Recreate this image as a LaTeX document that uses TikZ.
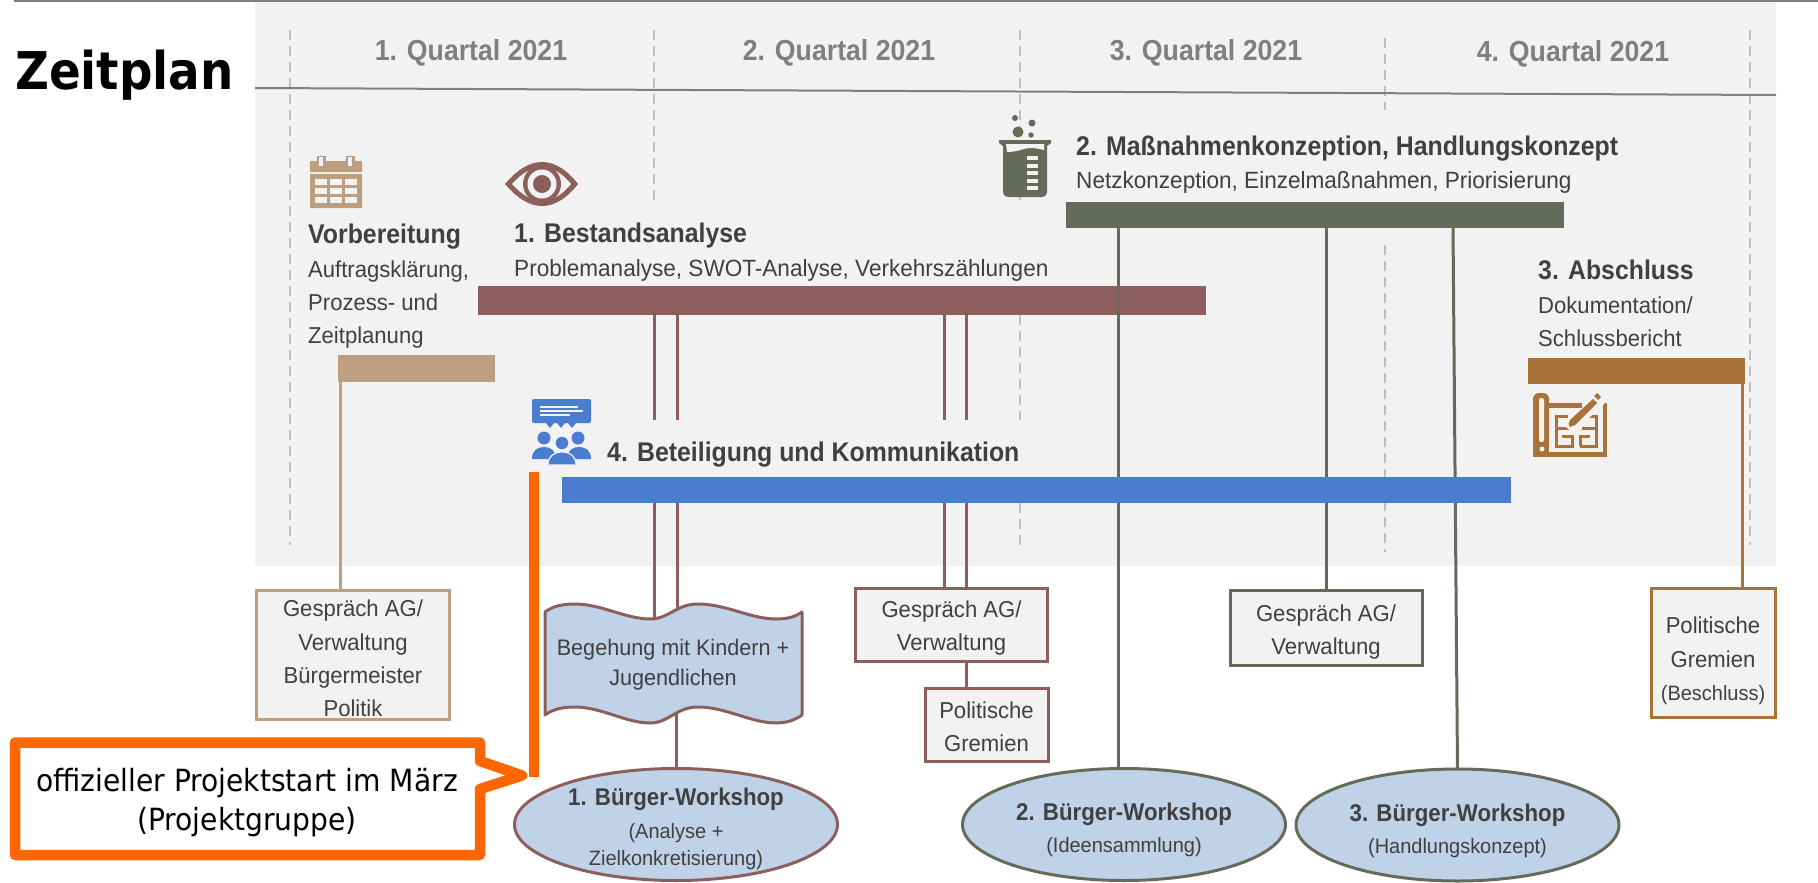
\documentclass[tikz,border=0pt]{standalone}
\usepackage{fontspec}
\setmainfont[FakeStretch=0.96]{Liberation Sans}
\newfontfamily\hdfont[FakeStretch=0.92]{Liberation Sans}
\newfontfamily\tahomaish[FakeStretch=0.92]{DejaVu Sans}
\newfontfamily\titlefont[FakeStretch=0.90]{DejaVu Sans}
\definecolor{panel}{HTML}{F2F2F2}
\definecolor{rulegray}{HTML}{7F7F7F}
\definecolor{dashgray}{HTML}{BFBFBF}
\definecolor{txt}{HTML}{404040}
\definecolor{tan}{HTML}{BD9F7F}
\definecolor{brownred}{HTML}{8D5F5C}
\definecolor{olive}{HTML}{656B59}
\definecolor{bronze}{HTML}{A87238}
\definecolor{blueb}{HTML}{4A7DD0}
\definecolor{lightb}{HTML}{BFD2E7}
\definecolor{orangex}{HTML}{FF6600}
\tikzset{
  qlabel/.style={font=\fontsize{29}{32}\selectfont\hdfont\bfseries,text=rulegray,anchor=base,inner sep=0},
  head/.style={font=\fontsize{27}{30}\selectfont\hdfont\bfseries,text=txt,anchor=base west,inner sep=0},
  sub/.style={font=\fontsize{23}{33.3}\selectfont,text=txt,anchor=base west,inner sep=0,align=left},
  subwide/.style={font=\fontsize{23.5}{33.3}\selectfont,text=txt,anchor=base west,inner sep=0},
  barn/.style={inner sep=0,outer sep=0,anchor=north west},
  boxn/.style={draw=#1,line width=3pt,fill=panel,inner sep=0,outer sep=0},
  boxt/.style={inner sep=0,text=txt,align=center,font=\fontsize{23}{33.3}\selectfont},
  elln/.style={ellipse,draw=#1,line width=3pt,fill=lightb,inner sep=0,outer sep=0,minimum width=323pt,minimum height=112pt},
  conn/.style={draw=#1,line width=3pt},
  dashv/.style={draw=dashgray,line width=1.5pt,dash pattern=on 10pt off 6pt},
  ebold/.style={font=\fontsize{24.2}{26}\selectfont\hdfont\bfseries,text=txt,anchor=base,inner sep=0},
  esmall/.style={font=\fontsize{20.8}{27}\selectfont,text=txt,anchor=base,inner sep=0},
}
\usetikzlibrary{shapes.geometric}
\begin{document}
\begin{tikzpicture}[x=1pt,y=-1pt]
\useasboundingbox (0,0) rectangle (1818,883);
% panel and rules
\fill[panel] (255,2) rectangle (1776,566);
\fill[rulegray] (14,0) rectangle (1818,2.5);
% quarter separators
\foreach \xa/\ya/\yb in {290/30/545,654/30/200,1020/30/200,1020/315/420,1020/503/545,1385/38/110,1385/245/552,1750/30/545}
  \draw[dashv] (\xa,\ya) -- (\xa,\yb);
\draw[rulegray,line width=2pt] (255,88) -- (1776,95);
\node[inner sep=0,anchor=base west,font=\fontsize{52}{60}\selectfont\titlefont\bfseries] (title) at (15,89) {Zeitplan};
\node[qlabel] (q1) at (471,60) {1. Quartal 2021};
\node[qlabel] (q2) at (839,60) {2. Quartal 2021};
\node[qlabel] (q3) at (1206,61) {3. Quartal 2021};
\node[qlabel] (q4) at (1573,62) {4. Quartal 2021};
% texts
\node[head] (vorb) at (308,243) {Vorbereitung};
\node[sub] (vorbs) at (308,343.6) {Auftragsklärung,\\Prozess- und\\Zeitplanung};
\node[head] (best) at (514,242) {1. Bestandsanalyse};
\node[subwide] (bests) at (514,276) {Problemanalyse, SWOT-Analyse, Verkehrszählungen};
\node[head] (mass) at (1076,155) {2. Maßnahmenkonzeption, Handlungskonzept};
\node[subwide] (masss) at (1076,188) {Netzkonzeption, Einzelmaßnahmen, Priorisierung};
\node[head] (absc) at (1538,279) {3. Abschluss};
\node[sub] (abscs) at (1538,346.3) {Dokumentation/\\Schlussbericht};
\node[head] (bet) at (607,461) {4. Beteiligung und Kommunikation};
% bars
\node[barn,fill=tan,minimum width=157pt,minimum height=27pt] (barV) at (338,355) {};
\node[barn,fill=brownred,minimum width=728pt,minimum height=29pt] (barB) at (478,286) {};
\node[barn,fill=olive,minimum width=498pt,minimum height=26pt] (barM) at (1066,202) {};
\node[barn,fill=bronze,minimum width=217pt,minimum height=26pt] (barA) at (1528,358) {};
% boxes
\node[boxn=tan,minimum width=193pt,minimum height=129pt] (box1) at (353,655) {};
\node[boxt] (box1t) at (353,658.5) {Gespräch AG/\\Verwaltung\\Bürgermeister\\Politik};
\node[boxn=brownred,minimum width=192pt,minimum height=73pt] (box2) at (951.5,625) {};
\node[boxt] (box2t) at (951.5,628) {Gespräch AG/\\Verwaltung};
\node[boxn=brownred,minimum width=123pt,minimum height=73pt] (box3) at (986.5,725) {};
\node[boxt] (box3t) at (986.5,727) {Politische\\Gremien};
\node[boxn=olive,minimum width=192pt,minimum height=75pt] (box4) at (1326,628) {};
\node[boxt] (box4t) at (1326,632) {Gespräch AG/\\Verwaltung};
\node[boxn=bronze,minimum width=124pt,minimum height=129pt] (box5) at (1713,653) {};
\node[boxt] (box5t) at (1713,661) {Politische\\Gremien\\{\fontsize{20.8}{27}\selectfont (Beschluss)}};
% ellipses
\node[elln=brownred] (ell1) at (676,824.5) {};
\node[elln=olive] (ell2) at (1124,824.5) {};
\node[elln=olive] (ell3) at (1457.5,825) {};
\node[ebold] (e1a) at (676,805) {1. Bürger-Workshop};
\node[esmall] (e1b) at (676,838) {(Analyse +};
\node[esmall] (e1c) at (676,865) {Zielkonkretisierung)};
\node[ebold] (e2a) at (1124,820) {2. Bürger-Workshop};
\node[esmall] (e2b) at (1124,852) {(Ideensammlung)};
\node[ebold] (e3a) at (1457.5,821) {3. Bürger-Workshop};
\node[esmall] (e3b) at (1457.5,853) {(Handlungskonzept)};
% connector columns
\coordinate (cV) at (340,0);
\coordinate (cA) at (654,0);
\coordinate (cB) at (677,0);
\coordinate (cC) at (944.5,0);
\coordinate (cD) at (966,0);
\coordinate (cE) at (1118.4,0);
\coordinate (cF) at (1326,0);
\coordinate (cG) at (1453,228);
\coordinate (cH) at (1742.5,0);
\coordinate (stopU) at (0,420);
\coordinate (waveL) at (654,620);
\coordinate (waveR) at (677,610);
\coordinate (waveB) at (676,708);
% connectors
\draw[conn=tan] (barV.south -| cV) -- (box1.north -| cV);
\draw[conn=brownred] (barB.south -| cA) -- (stopU -| cA);
\draw[conn=brownred] (barB.south -| cB) -- (stopU -| cB);
\draw[conn=brownred] (barB.south -| cC) -- (stopU -| cC);
\draw[conn=brownred] (barB.south -| cD) -- (stopU -| cD);
\draw[conn=olive] (barM.south -| cE) -- (ell2.north -| cE);
\draw[conn=olive] (barM.south -| cF) -- (box4.north -| cF);
\draw[conn=olive] (cG) -- (ell3.north);
\draw[conn=bronze] (barA.south -| cH) -- (box5.north -| cH);
% blue bar
\node[barn,fill=blueb,minimum width=949pt,minimum height=26pt] (barK) at (562,477) {};
\draw[conn=brownred] (barK.south -| cA) -- (waveL);
\draw[conn=brownred] (barK.south -| cB) -- (waveR);
\draw[conn=brownred] (barK.south -| cC) -- (box2.north -| cC);
\draw[conn=brownred] (barK.south -| cD) -- (box2.north -| cD);
\draw[conn=brownred] (box2.south -| cD) -- (box3.north -| cD);
\draw[conn=brownred] (waveB) -- (ell1.north);
% wave
\draw[draw=brownred,line width=3pt,fill=lightb,line join=round]
  (545,612) .. controls (553,606) and (563,604) .. (575,604)
  .. controls (601,604) and (626,619) .. (650,619)
  .. controls (669,619) and (676,604) .. (698,604)
  .. controls (726,604) and (751,619) .. (776,619)
  .. controls (787,619) and (795,617) .. (802,612)
  -- (802,715)
  .. controls (795,720) and (787,723) .. (776,723)
  .. controls (751,723) and (726,707) .. (698,707)
  .. controls (676,707) and (669,723) .. (650,723)
  .. controls (626,723) and (601,707) .. (575,707)
  .. controls (563,707) and (553,709) .. (545,715) -- cycle;
\node[inner sep=0,text=txt,align=center,font=\fontsize{22.5}{30}\selectfont] (wave) at (673,665) {Begehung mit Kindern +\\Jugendlichen};
% orange callout
\draw[orangex,line width=10.5pt,fill=white,line join=round]
  (15,742.5) -- (480,742.5) -- (480,761) -- (522,775.5) -- (480,789) -- (480,855) -- (15,855) -- cycle;
\coordinate (startTop) at (534,472);
\coordinate (startTip) at (534,777);
\draw[orangex,line width=10.5pt] (startTop) -- (startTip);
\node[inner sep=0,align=center,font=\fontsize{30.6}{39}\selectfont\tahomaish] (call) at (247,803) {offizieller Projektstart im März\\(Projektgruppe)};
% calendar icon
\fill[tan] (310,161) rectangle (362,172) (310,174) rectangle (362,208);
\foreach \xa in {321,350} {\fill[tan] (\xa,160) circle[radius=4.5]; \fill[tan] (\xa-4.5,156) rectangle (\xa+4.5,168); \fill[panel] (\xa-2,157) rectangle (\xa+2,166);}
\foreach \xa in {315,330,345} \foreach \ya in {179,188,197} \fill[panel] (\xa,\ya) rectangle (\xa+12,\ya+6);
% eye icon
\fill[brownred] (505,184) .. controls (517,170) and (529,162) .. (542,162) .. controls (555,162) and (567,170) .. (578,184) .. controls (567,198) and (555,206) .. (542,206) .. controls (529,206) and (517,198) .. (505,184) -- cycle;
\fill[panel] (512,184) .. controls (522,173) and (532,167) .. (542,167) .. controls (552,167) and (562,173) .. (571,184) .. controls (562,195) and (552,201) .. (542,201) .. controls (532,201) and (522,195) .. (512,184) -- cycle;
\fill[brownred] (542,184) circle[radius=19];
\fill[panel] (542,184) circle[radius=14.5];
\fill[brownred] (542,184) circle[radius=9];
% beaker icon
\fill[olive] (1015,118) circle[radius=3] (1032,123) circle[radius=3.5] (1018,132) circle[radius=5.5] (1031,135) circle[radius=2.7];
\fill[olive] (999,140) -- (1051,140) -- (1051,143) -- (1047,146) -- (1047,191) .. controls (1047,195) and (1045,197) .. (1041,197) -- (1009,197) .. controls (1005,197) and (1003,195) .. (1003,191) -- (1003,146) -- (999,143) -- cycle;
\fill[panel] (1006,144) -- (1044,144) -- (1044,150) .. controls (1035,148) and (1030,147) .. (1024,149) .. controls (1018,151) and (1012,152) .. (1007,152) -- cycle;
\foreach \ya in {156,163.5,171,178.5,186} \fill[panel] (1027,\ya) rectangle (1038,\ya+4);
% people icon
\fill[blueb,rounded corners=2pt] (532,399) rectangle (591,423);
\foreach \xa in {550,561,572} \fill[blueb] (\xa-4,423) -- (\xa+4,423) -- (\xa,428) -- cycle;
\draw[panel,line width=1.2pt] (540,407) -- (578,407) (540,411) -- (583,411) (540,415) -- (570,415);
\fill[blueb] (544,438) circle[radius=6.5] (578,438) circle[radius=6.5];
\fill[blueb] (532,459) .. controls (532,450) and (538,447) .. (544,447) .. controls (550,447) and (556,450) .. (556,459) -- cycle;
\fill[blueb] (567,459) .. controls (567,450) and (573,447) .. (579,447) .. controls (585,447) and (591,450) .. (591,459) -- cycle;
\draw[panel,line width=1.2pt,fill=blueb] (562,443) circle[radius=7];
\draw[panel,line width=1.2pt,fill=blueb] (548,465) .. controls (548,456) and (554,452) .. (562,452) .. controls (570,452) and (576,456) .. (576,465) -- cycle;
% plan icon
\fill[bronze,rounded corners=6pt] (1533,393) -- (1549,393) -- (1549,440) -- (1549,453) -- (1533,457) -- cycle;
\fill[bronze] (1533,445) rectangle (1549,457);
\fill[bronze] (1533,452) rectangle (1607,457);
\fill[bronze] (1549,403) rectangle (1582,407.5);
\fill[bronze] (1602.5,403) rectangle (1607,457);
\fill[panel,rounded corners=2pt] (1539,398) rectangle (1544,442);
\fill[panel] (1542,449) circle[radius=2.5];
\draw[bronze,line width=3pt] (1568,416) -- (1556,416) -- (1556,446) -- (1572,446) -- (1572,436) -- (1562,436)
  (1556,428) -- (1570,428) (1580,446) -- (1596,446) -- (1596,416) -- (1584,416)
  (1596,428) -- (1582,428) (1580,446) -- (1580,436) -- (1590,436);
\fill[panel] (1566,427) -- (1597,396) -- (1605,403) -- (1573,433) -- cycle;
\fill[bronze] (1568.5,424) -- (1570,420) -- (1593,399) -- (1597,403) -- (1575,425) -- (1570,427) -- cycle;
\fill[bronze] (1594,396) -- (1597,393) -- (1601,397) -- (1598,400) -- cycle;
\end{tikzpicture}
\end{document}
